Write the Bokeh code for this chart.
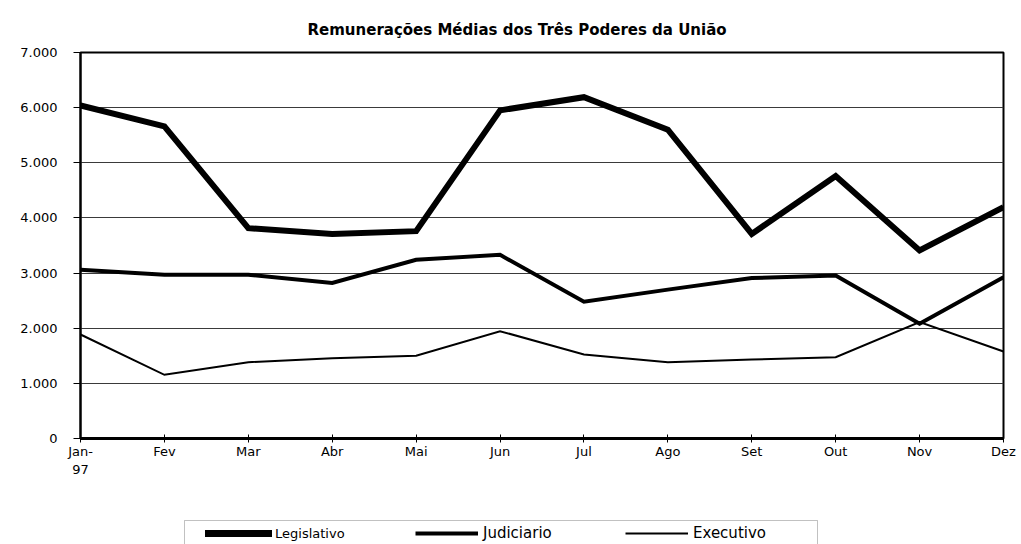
from bokeh.plotting import figure
from bokeh.layouts import column
from bokeh.models import Range1d, FixedTicker, Legend, BoxAnnotation
from bokeh.embed import file_html
from bokeh.resources import INLINE

months = ["Jan-\n97", "Fev", "Mar", "Abr", "Mai", "Jun", "Jul", "Ago", "Set", "Out", "Nov", "Dez"]
legislativo = [6040, 5660, 3815, 3710, 3760, 5950, 6190, 5600, 3710, 4760, 3410, 4195]
judiciario = [3060, 2970, 2970, 2820, 3240, 3330, 2480, 2700, 2910, 2955, 2080, 2925]
executivo = [1886, 1155, 1384, 1457, 1500, 1946, 1523, 1384, 1433, 1475, 2110, 1578]
y_ticks = [0, 1000, 2000, 3000, 4000, 5000, 6000, 7000]
y_labels = ["0", "1.000", "2.000", "3.000", "4.000", "5.000", "6.000", "7.000"]
series_names = ["Legislativo", "Judiciario", "Executivo"]
title_text = "Remunerações Médias dos Três Poderes da União"

FONT = "DejaVu Sans"
x = list(range(len(months)))

p = figure(width=1021, height=490, output_backend="svg", toolbar_location=None,
           x_range=Range1d(0, len(months) - 1), y_range=Range1d(0, 7000),
           min_border_left=80, min_border_right=18, min_border_top=52, min_border_bottom=52,
           title=title_text)

p.title.text_font = FONT
p.title.text_font_size = "15px"
p.title.text_font_style = "bold"
p.title.text_color = "black"
p.title.align = "left"
p.title.offset = 227
p.title.standoff = 27

p.outline_line_color = "black"
p.outline_line_width = 2
p.background_fill_color = "white"
p.border_fill_color = "white"

p.xgrid.visible = False
p.ygrid.grid_line_color = "#3a3a3a"
p.ygrid.grid_line_width = 1
p.ygrid.ticker = FixedTicker(ticks=y_ticks)

p.yaxis.ticker = FixedTicker(ticks=y_ticks)
p.yaxis.major_label_overrides = {t: l for t, l in zip(y_ticks, y_labels)}
p.yaxis.axis_line_width = 2
p.yaxis.major_tick_in = 0
p.yaxis.major_tick_out = 7
p.yaxis.minor_tick_line_color = None
p.yaxis.major_label_standoff = 16
p.yaxis.major_label_text_font = FONT
p.yaxis.major_label_text_font_size = "13px"
p.yaxis.major_label_text_color = "black"

p.xaxis.ticker = FixedTicker(ticks=x)
p.xaxis.major_label_overrides = {i: m for i, m in enumerate(months)}
p.xaxis.axis_line_width = 3
p.xaxis.major_tick_in = 4
p.xaxis.major_tick_out = 4
p.xaxis.minor_tick_line_color = None
p.xaxis.major_label_standoff = 1
p.xaxis.major_label_text_font = FONT
p.xaxis.major_label_text_font_size = "13px"
p.xaxis.major_label_text_color = "black"

p.line(x, legislativo, line_width=6, line_color="black", line_join="miter")
p.line(x, judiciario, line_width=4, line_color="black", line_join="miter")
p.line(x, executivo, line_width=2, line_color="black", line_join="miter")

# legend strip below the chart (series drawn out of its view, used only for the legend keys)
p2 = figure(width=1021, height=54, output_backend="svg", toolbar_location=None,
            x_axis_location=None, y_axis_location=None,
            x_range=Range1d(0, len(months) - 1), y_range=Range1d(-2, -1),
            min_border_left=80, min_border_right=18, min_border_top=0, min_border_bottom=0)
p2.outline_line_color = None
p2.xgrid.visible = False
p2.ygrid.visible = False
p2.background_fill_color = "white"
p2.border_fill_color = "white"

g1 = p2.line(x, legislativo, line_width=7, line_color="black", line_cap="round")
g2 = p2.line(x, judiciario, line_width=4, line_color="black")
g3 = p2.line(x, executivo, line_width=2, line_color="black")

box = BoxAnnotation(left=184, right=817, top=30, bottom=70,
                    left_units="canvas", right_units="canvas",
                    top_units="canvas", bottom_units="canvas",
                    fill_color=None, fill_alpha=0, line_color="#333333", line_width=1)
p2.add_layout(box)

legA = Legend(items=[(series_names[0], [g1])], orientation="horizontal",
              location=(125, 2), margin=0, padding=0, glyph_width=67, glyph_height=18,
              label_height=18, label_standoff=3, border_line_color=None,
              background_fill_alpha=0, label_text_font=FONT, label_text_font_size="13px",
              label_text_color="black")
legB = Legend(items=[(series_names[1], [g2]), (series_names[2], [g3])], orientation="horizontal",
              location=(335, 2), margin=0, padding=0, glyph_width=63, glyph_height=18,
              label_height=18, label_width=100, label_standoff=5, spacing=42,
              border_line_color=None, background_fill_alpha=0,
              label_text_font=FONT, label_text_font_size="15px", label_text_color="black")
p2.add_layout(legA, "center")
p2.add_layout(legB, "center")

layout = column(p, p2, spacing=0)
open("out.html", "w").write(file_html(layout, INLINE))
